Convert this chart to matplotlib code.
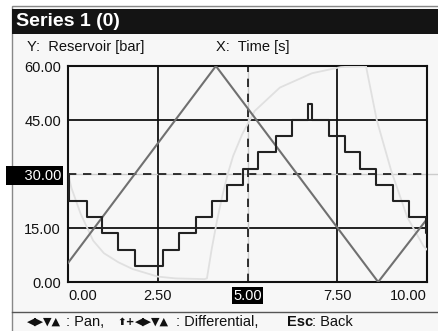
import matplotlib
matplotlib.use('Agg')
import matplotlib.pyplot as plt
from matplotlib.patches import Rectangle
from matplotlib.lines import Line2D

plt.rcParams['font.family'] = ['Liberation Sans', 'DejaVu Sans']

# data
tri_t = [0.0, 4.12, 8.64, 10.0]
tri_v = [5.3, 60.0, 0.0, 17.5]

step_t = [0.0, 0.02, 0.53, 0.94, 1.4, 1.87, 2.65, 3.1, 3.56, 4.0, 4.43, 4.87,
          5.3, 5.8, 6.24, 6.69, 6.8, 7.27, 7.72, 8.13, 8.58, 9.05, 9.5, 9.98, 10.0]
step_v = [30.0, 22.5, 18.0, 13.5, 9.0, 4.5, 9.0, 13.5, 18.0, 22.5, 27.0, 31.5,
          36.0, 40.5, 45.0, 49.5, 45.0, 40.5, 36.0, 31.5, 27.0, 22.5, 18.0, 13.5, 13.5]

light_t = [0.0, 0.1, 0.35, 0.7, 1.0, 1.4, 1.8, 2.5, 3.0, 3.8, 3.87, 4.0, 4.15,
           4.3, 4.45, 4.6, 4.85, 5.2, 5.9, 6.8, 7.6, 8.3, 8.6, 9.0, 9.45, 9.9, 10.0]
light_v = [30.0, 26.0, 19.0, 11.5, 8.0, 5.5, 3.6, 1.5, 1.0, 0.8, 1.0, 9.0, 17.0,
           24.0, 30.0, 35.0, 41.0, 47.5, 54.0, 58.0, 59.7, 60.0, 45.0, 31.0, 18.0, 10.0, 9.0]

xticks = [0, 2.5, 5, 7.5, 10]
xlabels = ['0.00', '2.50', '5.00', '7.50', '10.00']
yticks = [0, 15, 30, 45, 60]
ylabels = ['0.00', '15.00', '    30.00', '45.00', '60.00']
cursor_x = 5.0
cursor_y = 30.0

W, H = 438, 331
fig = plt.figure(figsize=(W / 100, H / 100), dpi=100)
fig.patch.set_facecolor('white')

def fx(px):
    return px / W

def fy(py):
    return 1 - py / H

# window frame
fig.patches.append(Rectangle((fx(12), -0.01), 1 - fx(12) + 0.01, fy(6) + 0.01,
                             transform=fig.transFigure, facecolor='#f7f7f7',
                             edgecolor='#888888', lw=1, zorder=-5))
fig.patches.append(Rectangle((fx(12), fy(34)), 1 - fx(12), fy(9) - fy(34),
                             transform=fig.transFigure, facecolor='#141414',
                             edgecolor='none', zorder=-4))
fig.lines.append(Line2D([fx(12), 1], [fy(312), fy(312)], transform=fig.transFigure,
                        color='#555555', lw=1, zorder=-4))
fig.text(fx(16), fy(22), 'Series 1 (0)', color='white', fontsize=14,
         fontweight='bold', va='center', ha='left')
fig.text(fx(27), fy(47), 'Y:  Reservoir [bar]', fontsize=10.5, va='center', color='#111111')
fig.text(fx(216), fy(47), 'X:  Time [s]', fontsize=10.5, va='center', color='#111111')

# key hints at the bottom
arrows = '◀▶▼▲'
fig.text(fx(27), fy(322), arrows, fontsize=8, va='center', color='#111111',
         family=['DejaVu Sans'])
fig.text(fx(66), fy(322), ': Pan,', fontsize=10.5, va='center', color='#111111')
fig.text(fx(117), fy(322), '⬆+', fontsize=7.5, va='center', color='#111111',
         fontweight='bold', family=['DejaVu Sans'])
fig.text(fx(135), fy(322), arrows, fontsize=8, va='center', color='#111111',
         family=['DejaVu Sans'])
fig.text(fx(176), fy(322), ': Differential,', fontsize=10.5, va='center', color='#111111')
fig.text(fx(287), fy(322), 'Esc', fontsize=10.5, fontweight='bold', va='center',
         color='#111111')
fig.text(fx(312), fy(322), ': Back', fontsize=10.5, va='center', color='#111111')

ax = fig.add_axes([fx(68), fy(282), fx(427) - fx(68), fy(66) - fy(282)])
ax.set_facecolor('#f7f7f7')
ax.set_xlim(0, 10)
ax.set_ylim(0, 60)

for x in [2.5, 7.5]:
    ax.axvline(x, color='#111111', lw=1.3, zorder=1)
for y in [15, 45]:
    ax.axhline(y, color='#111111', lw=1.3, zorder=1)

# cursor
ax.axhline(cursor_y, xmin=0, xmax=1.028, color='#cccccc', lw=1, clip_on=False, zorder=2)
ax.axhline(cursor_y, xmin=0, xmax=1.0, color='#111111', lw=1.2, ls=(0, (5, 4)), zorder=2)
ax.axvline(cursor_x, color='#cccccc', lw=1, zorder=2)
ax.axvline(cursor_x, color='#111111', lw=1.2, ls=(0, (5, 4)), zorder=2)

ax.plot(light_t, light_v, color='#e0e0e0', lw=1.3, zorder=3)
ax.plot(tri_t, tri_v, color='#707070', lw=1.5, zorder=4)
ax.plot(step_t, step_v, drawstyle='steps-post', color='#222222', lw=1.5, zorder=5)

for s in ax.spines.values():
    s.set_color('#111111')
    s.set_linewidth(1.5)

ax.set_xticks(xticks)
ax.set_xticklabels(xlabels)
ax.set_yticks(yticks)
ax.set_yticklabels(ylabels)
ax.tick_params(length=0, labelsize=10.5, labelcolor='#111111')
ax.tick_params(axis='y', pad=5)
ax.tick_params(axis='x', pad=5)

xt = ax.get_xticklabels()
xt[0].set_ha('left')
xt[-1].set_ha('right')
for i, t in enumerate(xt):
    if xticks[i] == cursor_x:
        t.set_color('white')
        t.set_bbox(dict(facecolor='black', edgecolor='none', pad=1))
for i, t in enumerate(ax.get_yticklabels()):
    if yticks[i] == cursor_y:
        t.set_color('white')
        t.set_bbox(dict(facecolor='black', edgecolor='none', pad=1.5))

fig.savefig('out.png', dpi=100)
